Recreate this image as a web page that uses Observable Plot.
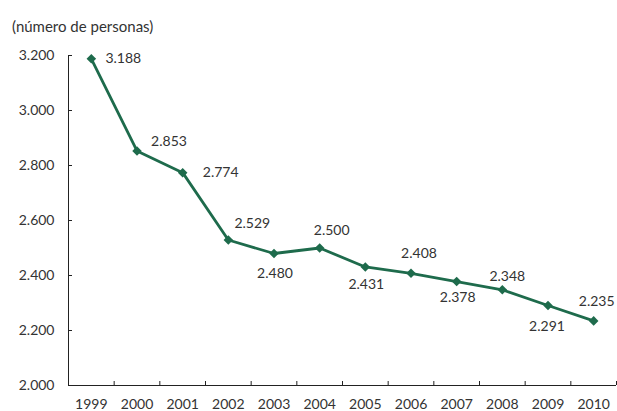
<!DOCTYPE html>
<html><head><meta charset="utf-8">
<script src="https://cdn.jsdelivr.net/npm/d3@7"></script>
<script src="https://cdn.jsdelivr.net/npm/@observablehq/plot@0.6"></script>
<style>
body{margin:0;background:#fff;font-family:Lato, "Open Sans", sans-serif;position:relative;}
#title{position:absolute;top:18px;left:12px;font-size:15px;line-height:16px;color:#333;}
#chart{padding-top:30px;}
</style></head><body>
<div id="title">(número de personas)</div>
<div id="chart"></div>
<script>
const years = [1999, 2000, 2001, 2002, 2003, 2004, 2005, 2006, 2007, 2008, 2009, 2010];
const persons = [3188, 2853, 2774, 2529, 2480, 2500, 2431, 2408, 2378, 2348, 2291, 2235];
const yTicks = [2000, 2200, 2400, 2600, 2800, 3000, 3200];

const data = years.map((y, i) => ({year: y, value: persons[i]}));
const boundaries = years.map(y => y + 0.5);
const fmt = d3.formatLocale({thousands: ".", grouping: [3], decimal: ",", currency: ["", ""]}).format(",d");

// label nudges (dx, dy in px) for each point's value label
const labelNudge = [[32,0],[32,-9],[38,0],[24,-17],[1,20],[12,-17],[1,18],[8,-20],[1,16],[5,-13],[-1,21],[3,-19]];

const green = "#1e6b4c";
const axisColor = "#222";
const W = 617, H = 381, mL = 68, mR = 1, mT = 25, mB = 26;

const chart = Plot.plot({
  width: W, height: H,
  marginLeft: mL, marginRight: mR, marginTop: mT, marginBottom: mB,
  style: {fontFamily: "Lato, 'Open Sans', sans-serif", fontSize: "14px", color: "#333", background: "#fff", overflow: "visible"},
  x: {type: "linear", domain: [1998.5, 2010.5]},
  y: {domain: [2000, 3200]},
  marks: [
    Plot.ruleY([2000], {stroke: axisColor, strokeWidth: 1}),
    Plot.ruleX([1998.5], {y1: 2000, y2: 3200, stroke: axisColor, strokeWidth: 1}),
    Plot.tickX(boundaries, {x: d => d, stroke: axisColor, insetTop: (H - mT - mB) - 4}),
    Plot.tickY(yTicks, {y: d => d, stroke: axisColor, insetRight: (W - mL - mR) - 4}),
    Plot.axisY({ticks: yTicks, tickSize: 0, tickPadding: 14, tickFormat: fmt, label: null, fill: "#333"}),
    Plot.axisX({ticks: years, tickSize: 0, tickPadding: 14, tickFormat: d => String(d), label: null, fill: "#333"}),
    Plot.line(data, {x: "year", y: "value", stroke: green, strokeWidth: 2.8}),
    Plot.dot(data, {x: "year", y: "value", symbol: "diamond2", r: 4.3, fill: green, stroke: null}),
    ...labelNudge.map(([dx, dy], i) => Plot.text([data[i]], {x: "year", y: "value", text: d => fmt(d.value), dx, dy, fill: "#333", fontSize: 14}))
  ]
});
document.getElementById("chart").appendChild(chart);
</script>
</body></html>
